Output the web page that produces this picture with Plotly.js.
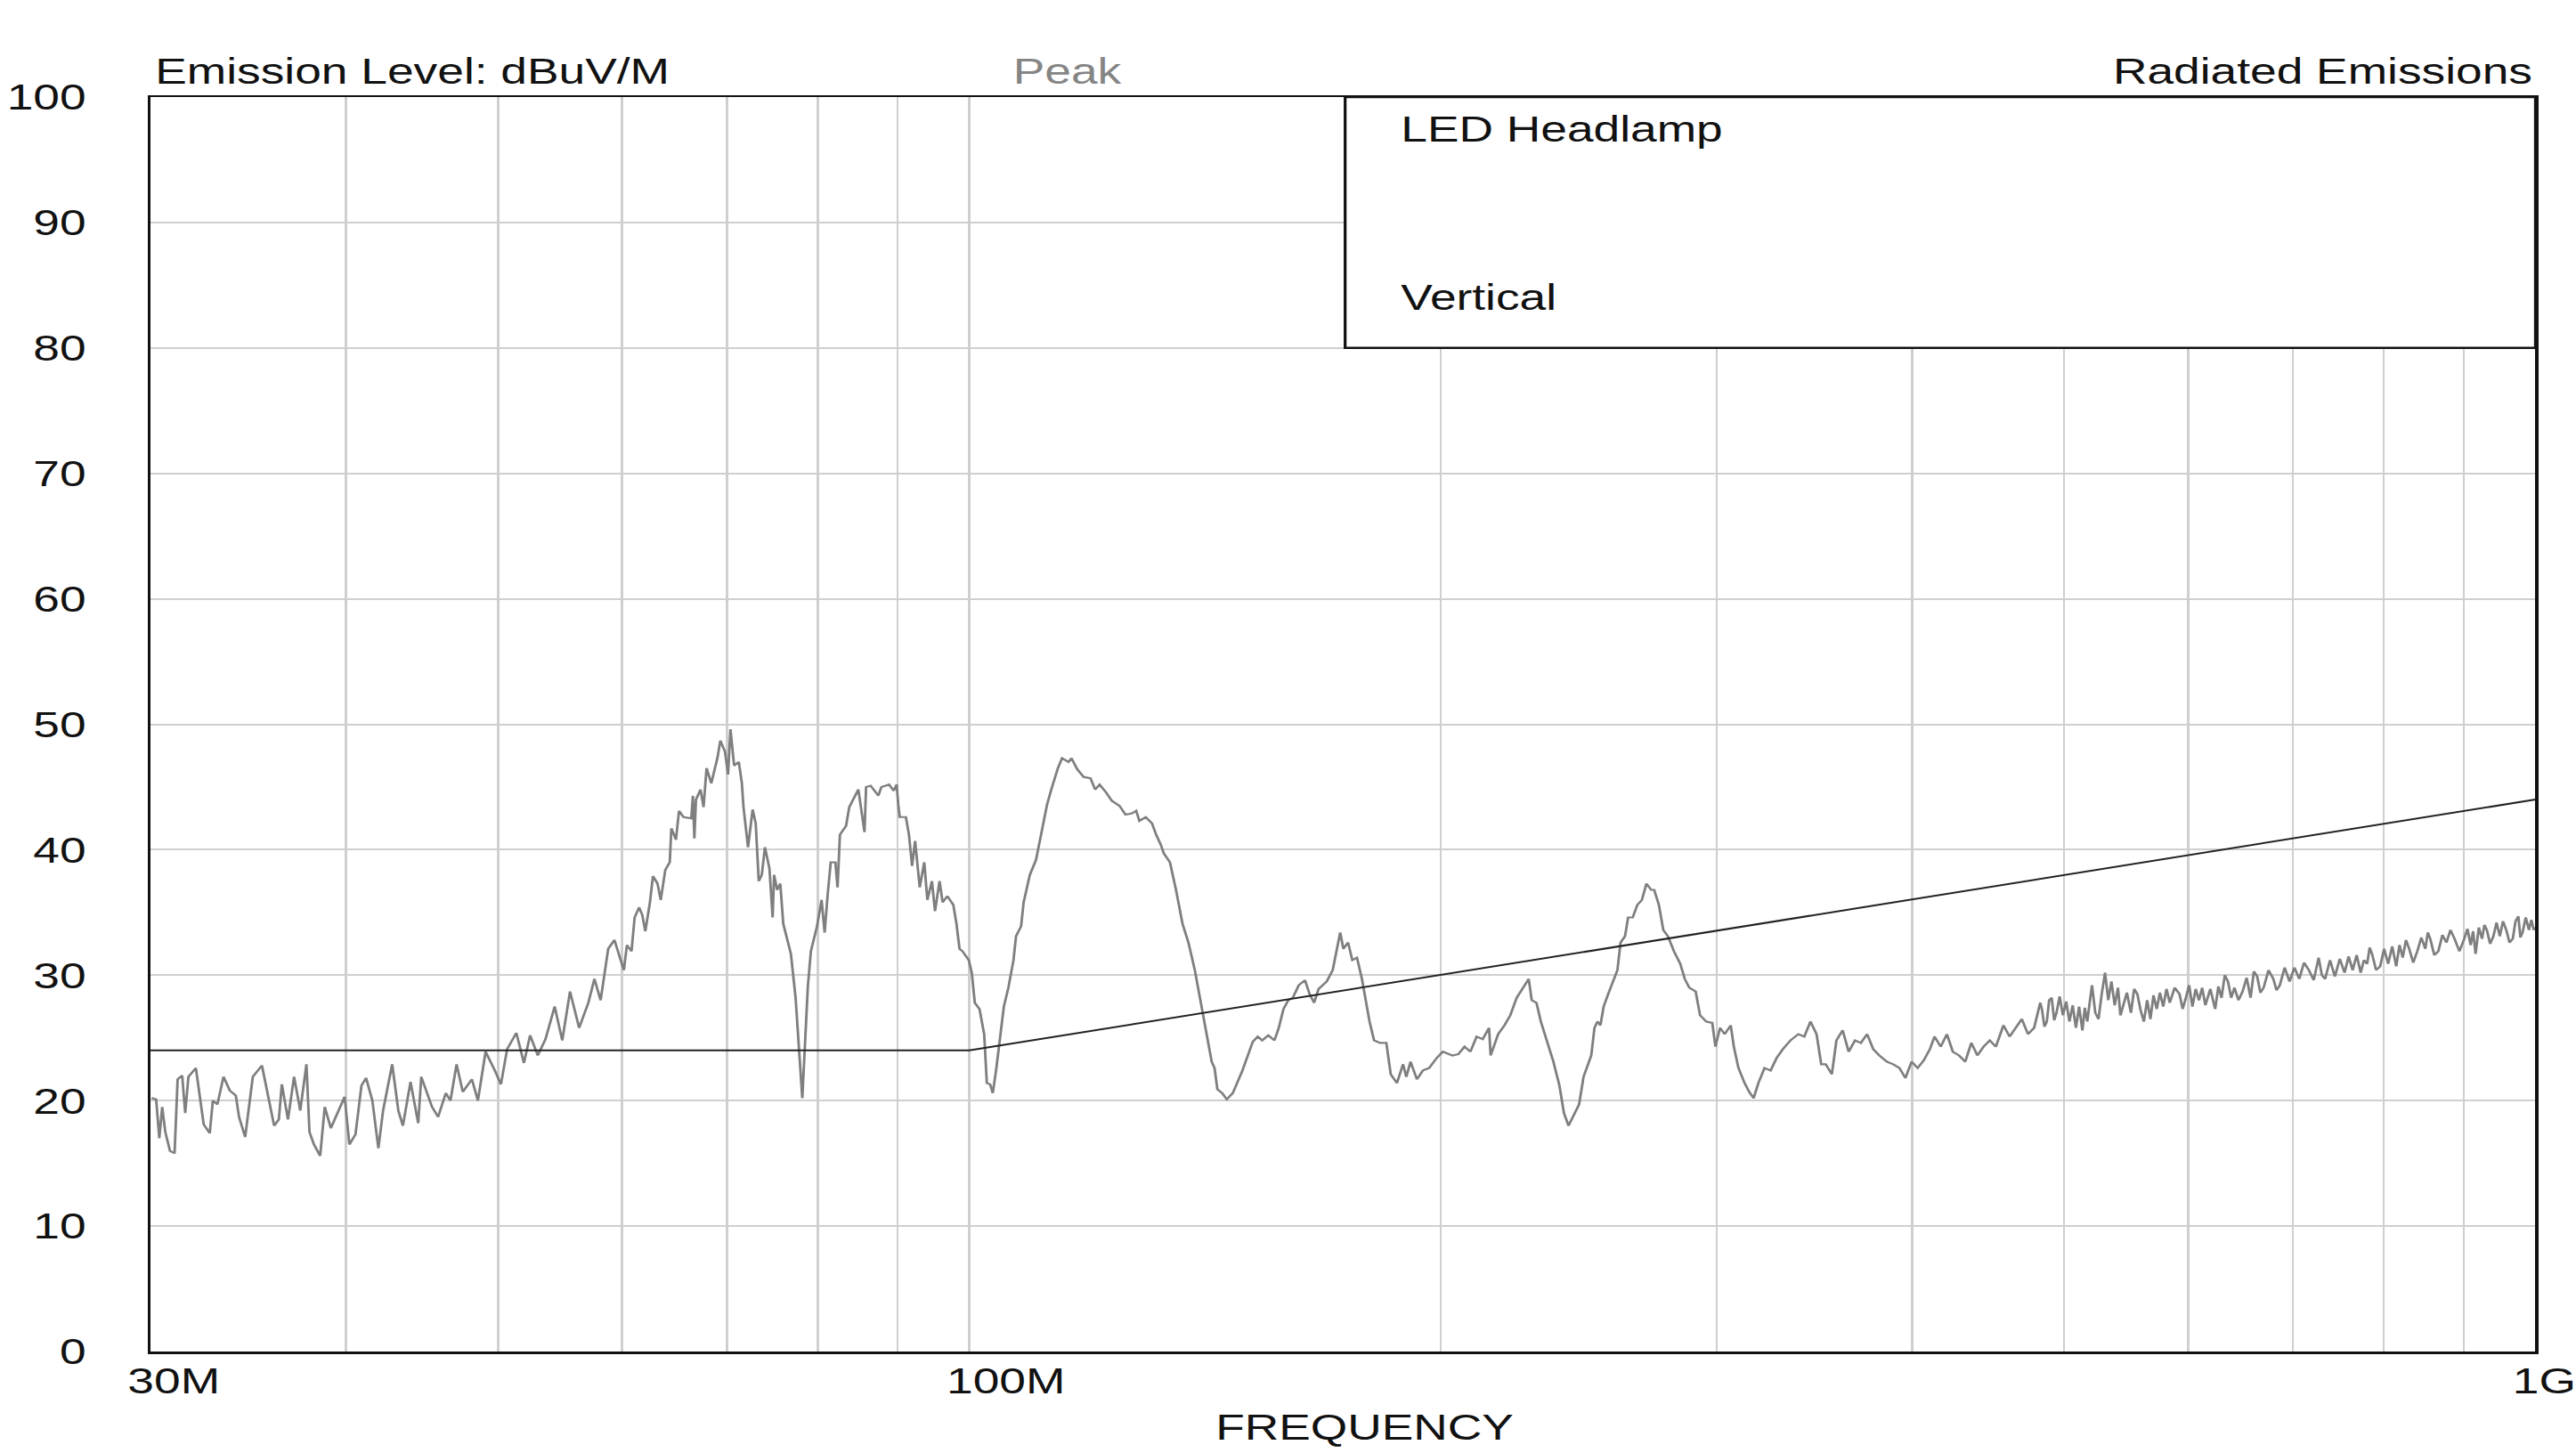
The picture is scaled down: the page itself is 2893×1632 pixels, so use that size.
<!DOCTYPE html>
<html><head><meta charset="utf-8">
<script src="https://cdn.plot.ly/plotly-3.0.1.min.js"></script>
<style>
html,body{margin:0;padding:0;background:#fff;overflow:hidden;width:2893px;height:1632px}
#wrap{width:2893px;height:1632px;overflow:hidden;position:relative;background:#fff}
#chart{width:2260px;height:1632px;transform:scaleX(1.30022);transform-origin:0 0}
</style></head>
<body><div id="wrap"><div id="chart"></div></div>
<script>
// Peak emission trace (MHz, dBuV/m)
const freqMHz = [
30.05,30.25,30.39,30.52,30.66,30.87,31.08,31.22,31.43,31.57,31.72,32.07,32.44,32.73,32.88,33.10,33.40,33.71,34.01,34.17,
34.48,34.87,35.34,35.58,35.98,36.23,36.39,36.72,37.05,37.39,37.73,37.90,38.15,38.50,38.76,39.11,39.55,39.91,40.19,40.55,
40.91,41.19,41.57,41.94,42.23,42.80,43.19,43.48,43.97,44.47,44.67,45.38,45.79,46.31,46.63,47.05,47.48,48.12,48.55,49.10,
49.77,50.22,50.68,51.37,51.95,52.42,53.02,53.62,54.35,54.96,55.59,56.34,57.11,57.62,58.15,58.80,59.34,
59.9,60.17,60.44,60.85,61.13,61.54,61.82,62.10,62.52,62.80,63.22,63.52,63.95,64.37,64.52,64.96,65.25,65.69,66.44,66.6,66.74,66.9,
67.35,67.65,67.95,68.42,69.04,69.34,69.82,70.13,70.38,70.76,71.25,71.57,71.74,72.22,72.71,73.04,73.37,73.70,74.04,74.53,
74.88,75.04,75.38,75.73,76.06,76.58,76.92,77.45,77.80,78.22,78.50,78.86,79.21,79.93,80.47,80.83,81.20,81.56,82.12,82.38,
82.67,83.42,83.81,84.57,84.94,85.71,85.91,86.49,87.47,87.86,88.86,89.47,89.86,90.07,90.27,91.09,91.50,91.92,92.33,92.96,
93.58,94.01,94.64,95.07,95.71,96.15,96.81,97.67,98.12,98.56,99.01,99.91,100.35,100.8,101.5,102.2,102.6,103.1,103.5,104.0,
104.5,105.2,105.9,106.7,107.1,107.9,108.3,109.3,110.3,111.1,112.1,112.8,113.9,114.6,115.7,116.2,117.2,118.3,
119.5,120.3,121.1,122.2,123.3,124.7,125.8,127.0,127.8,128.4,129.6,130.8,131.6,132.5,133.1,134.3,135.5,136.8,138.0,139.3,
140.5,141.8,142.8,143.4,144.0,145.0,146.0,147.3,148.3,149.4,150.4,151.7,152.8,153.8,155.2,156.6,157.6,158.7,159.8,160.9,
162.3,163.8,164.9,166.0,167.1,169.1,170.6,171.7,172.5,173.3,174.5,175.6,176.8,178.1,179.3,180.1,181.3,182.9,184.6,185.8,
187.5,189.2,190.1,191.3,193.1,194.8,196.6,198.8,200.6,203.4,205.2,207.1,208.9,210.8,212.7,214.7,215.2,217.6,219.6,221.5,
223.6,225.6,227.6,228.6,230.2,231.7,233.8,236.0,238.1,239.7,241.3,
242.9,245.1,246.7,248.4,249.5,250.7,251.8,252.9,254.1,255.8,257.5,259.3,260.5,262.2,263.4,265.2,267.0,268.8,270.6,272.5,
273.7,275.6,277.4,279.3,281.8,284.4,286.3,288.2,290.9,292.8,295.5,298.1,299.5,301.5,303.6,306.3,307.7,309.8,312.6,314.7,
316.8,319.0,321.9,324.8,327.7,330.7,334.4,338.3,341.3,344.4,347.5,349.9,352.2,355.4,357.8,361.1,364.3,367.7,370.9,374.3,
377.7,381.1,385.4,388.9,392.5,396.0,399.6,403.2,406.8,410.5,413.3,417.1,420.9,424.6,428.5,432.4,436.3,440.2,444.2,448.3,
452.3,457.4,461.6,465.7,469.9,474.2,478.5,482.8,
484.0,485.8,487.5,489.2,491.0,492.8,494.5,496.8,499.2,501.6,504.0,506.4,508.8,511.2,513.7,515.5,517.4,519.2,521.0,523.5,
526.0,528.5,531.1,533.6,536.1,538.7,541.3,543.2,545.2,548.4,551.7,554.3,556.9,559.6,562.3,565.0,567.7,570.3,573.0,575.7,
578.5,581.3,584.1,588.3,592.5,595.3,598.1,601.0,603.9,606.8,609.7,612.6,615.5,620.0,624.4,627.4,630.3,633.3,636.3,639.3,
642.4,646.2,650.1,654.0,657.8,661.0,664.2,667.4,670.5,675.4,680.2,683.4,686.7,691.6,696.6,701.6,706.6,711.6,716.7,721.8,
727.0,730.5,734.0,739.3,744.6,750.0,755.3,759.8,764.3,768.8,773.4,777.1,780.8,783.6,786.4,791.1,795.8,800.5,805.3,810.1,
814.9,818.8,822.7,826.6,830.6,835.5,840.5,845.5,850.5,853.6,856.7,861.8,866.9,872.1,877.3,882.5,887.8,894.2,900.6,904.8,
909.1,912.4,915.7,920.1,924.5,927.7,931.0,935.5,940.0,944.4,948.9,953.4,958.0,962.6,967.2,971.1,975.1,978.1,981.1,985.8,
990.5,994.0,997.5,1000
];
const levelDb = [
20.2,20.1,17.0,19.5,17.5,16.0,15.8,21.7,22.0,19.0,21.9,22.6,18.1,17.4,20.0,19.7,21.9,20.8,20.4,18.7,
17.1,21.9,22.8,20.9,18.0,18.5,21.3,18.5,21.9,19.2,22.9,17.5,16.5,15.6,19.5,17.8,19.2,20.3,16.5,17.3,
21.2,21.8,20.0,16.2,19.2,22.9,19.2,18.0,21.5,18.2,21.9,19.5,18.7,20.6,20.0,22.9,20.7,21.7,20.0,23.9,
22.4,21.3,24.1,25.4,23.0,25.2,23.6,24.9,27.5,24.8,28.7,25.8,27.8,29.7,28.0,32.1,32.8,
31.2,30.4,32.4,31.9,34.6,35.4,34.8,33.5,35.8,37.9,37.3,36.0,38.4,39.0,41.7,40.8,43.1,42.6,42.5,44.3,40.9,44.0,
44.8,43.4,46.5,45.3,47.3,48.7,47.8,46.0,49.6,46.7,47.0,45.3,43.4,40.2,43.2,42.1,37.5,38.0,40.2,38.5,
34.6,38.0,36.8,37.3,34.1,32.6,31.7,28.2,24.3,20.2,24.1,29.1,31.9,33.9,36.0,33.4,36.5,39.0,39.0,37.0,
41.2,41.9,43.4,44.3,44.8,41.4,45.0,45.1,44.3,45.0,45.2,44.7,45.2,43.6,42.6,42.6,41.2,38.7,40.7,37.0,
39.0,36.0,37.5,35.1,37.5,35.8,36.3,35.6,34.1,32.1,31.9,31.2,30.2,27.8,27.3,25.3,21.4,21.3,20.6,22.4,
24.8,27.5,29.0,31.2,33.1,33.9,35.8,38.0,39.2,41.2,43.6,44.8,46.5,47.3,47.0,47.3,46.4,45.8,
45.7,44.8,45.2,44.6,43.9,43.5,42.8,42.9,43.1,42.3,42.6,42.1,41.2,40.4,39.7,39.0,36.8,34.1,32.6,30.4,
27.8,25.1,23.1,22.6,20.9,20.6,20.1,20.6,21.4,22.4,23.4,24.7,25.1,24.8,25.2,24.8,25.8,27.3,28.0,28.2,
29.2,29.6,28.5,27.8,28.9,29.5,30.4,32.1,33.4,32.1,32.6,31.2,31.4,29.7,27.8,26.3,24.8,24.6,24.6,22.1,
21.4,22.9,21.9,23.1,21.7,22.4,22.6,23.4,23.9,23.6,23.7,24.3,23.9,25.1,24.9,25.8,23.6,25.3,26.0,26.8,
28.2,28.9,29.7,28.0,27.8,26.3,24.8,23.1,21.2,19.0,18.0,
18.7,19.7,21.9,22.9,23.6,25.8,26.3,26.0,27.5,28.5,29.5,30.4,32.6,33.1,34.6,34.6,35.6,36.0,37.3,36.8,
36.8,35.6,33.6,33.1,31.9,30.9,29.7,29.0,28.7,26.8,26.3,26.2,24.3,25.8,25.3,26.0,24.3,22.6,21.4,20.7,
20.2,21.4,22.6,22.4,23.4,24.1,24.8,25.3,25.1,26.3,25.3,22.9,22.9,22.1,24.8,25.6,23.9,24.8,24.6,25.3,
24.1,23.6,23.1,22.9,22.6,21.8,23.1,22.6,23.2,24.1,25.1,24.3,25.3,23.9,23.6,23.1,24.6,23.6,24.3,24.8,
24.3,26.0,25.1,25.8,26.5,25.3,25.8,27.8,
27.3,25.9,26.3,28.0,28.2,26.4,27.0,28.3,26.8,27.9,26.3,27.6,25.8,27.5,25.6,27.4,26.3,27.8,29.2,27.0,
26.5,28.5,30.2,28.0,29.5,27.6,29.0,26.8,27.5,28.6,27.0,28.9,28.5,27.2,26.3,28.0,26.5,28.4,27.3,28.6,
27.5,28.9,27.8,29.0,28.5,27.3,28.2,29.2,27.5,28.9,28.0,29.0,27.6,28.9,27.3,29.1,28.2,30.0,29.5,28.2,
29.0,28.0,28.7,29.8,28.2,30.3,29.9,28.6,29.0,30.4,29.7,28.8,29.2,30.6,29.5,30.6,29.7,31.0,30.4,29.6,
31.4,30.0,29.7,31.2,29.9,31.3,30.2,31.5,30.4,31.6,30.2,31.2,30.9,32.2,31.7,30.4,30.7,32.1,30.9,32.3,
30.7,32.4,31.4,32.8,32.1,31.0,31.9,33.0,32.1,33.4,32.9,31.6,31.9,33.2,32.6,33.6,32.9,31.9,32.9,33.7,
32.4,33.5,31.7,33.8,32.9,34.0,33.6,32.5,33.1,34.2,33.1,34.3,33.6,32.6,32.9,34.3,34.7,33.0,33.4,34.6,
33.6,34.4,33.6,33.8
];
// Limit line
const limitFreqMHz = [30, 100, 1000];
const limitDb = [24, 24, 44];
// Axes
const gridFreqMHz = [30,40,50,60,70,80,90,100,200,300,400,500,600,700,800,900,1000];
const xLabelFreqMHz = [30, 100, 1000];
const xLabelText = ['30M', '100M', '1G'];
const yTickVals = [0,10,20,30,40,50,60,70,80,90,100];
// Texts
const yAxisLabel = 'Emission Level: dBuV/M';
const detectorLabel = 'Peak';
const testLabel = 'Radiated Emissions';
const deviceLabel = 'LED Headlamp';
const polarLabel = 'Vertical';
const xAxisLabel = 'FREQUENCY';

const FONT = '"Liberation Sans", Arial, sans-serif';
const INK = '#111111';
const xTickText = gridFreqMHz.map(f => {
  const i = xLabelFreqMHz.indexOf(f);
  return i >= 0 ? xLabelText[i] : '';
});

const traces = [
  {x: freqMHz, y: levelDb, type: 'scatter', mode: 'lines',
   line: {color: '#7f7f7f', width: 2.2}, hoverinfo: 'skip'},
  {x: limitFreqMHz, y: limitDb, type: 'scatter', mode: 'lines',
   line: {color: '#222222', width: 2}, hoverinfo: 'skip'}
];

const txt = (text, x, y, xanchor, color) => ({
  text, xref: 'paper', yref: 'paper', x, y, xanchor, yanchor: 'middle',
  showarrow: false, font: {family: FONT, size: 41, color: color || INK}
});

const layout = {
  width: 2260, height: 1632,
  margin: {l: 130, r: 69.6, t: 109, b: 114, pad: 0},
  paper_bgcolor: '#ffffff', plot_bgcolor: '#ffffff',
  showlegend: false,
  font: {family: FONT, size: 41, color: INK},
  xaxis: {
    type: 'log',
    range: [Math.log10(30), Math.log10(1000)],
    tickmode: 'array', tickvals: gridFreqMHz, ticktext: xTickText,
    ticks: '', ticklabelposition: 'outside right', ticklabelshift: -21,
    ticklabelstandoff: -5, ticklabeloverflow: 'allow',
    showgrid: true, gridcolor: '#cfcfcf', gridwidth: 2,
    showline: true, mirror: true, linecolor: INK, linewidth: 2.5,
    zeroline: false,
    tickfont: {family: FONT, size: 41, color: INK},
    automargin: false
  },
  yaxis: {
    range: [0, 100],
    tickmode: 'array', tickvals: yTickVals,
    ticks: '', ticklabelstandoff: 45,
    showgrid: true, gridcolor: '#cfcfcf', gridwidth: 2,
    showline: true, mirror: true, linecolor: INK, linewidth: 2.5,
    zeroline: false,
    tickfont: {family: FONT, size: 41, color: INK},
    automargin: false
  },
  shapes: [
    {type: 'rect', xref: 'paper', yref: 'y', x0: 0.5009, x1: 1, y0: 80, y1: 100,
     fillcolor: '#ffffff', line: {color: INK, width: 2.5}, layer: 'above'}
  ],
  annotations: [
    txt(yAxisLabel, 0.001, 1.0208, 'left'),
    txt(detectorLabel, 0.3845, 1.0208, 'center', '#858585'),
    txt(testLabel, 0.9995, 1.0208, 'right'),
    txt(deviceLabel, 0.5233, 0.9748, 'left'),
    txt(polarLabel, 0.5233, 0.8405, 'left'),
    txt(xAxisLabel, 0.5088, -0.0603, 'center')
  ]
};

Plotly.newPlot('chart', traces, layout, {displayModeBar: false, staticPlot: true});
</script>
</body></html>
